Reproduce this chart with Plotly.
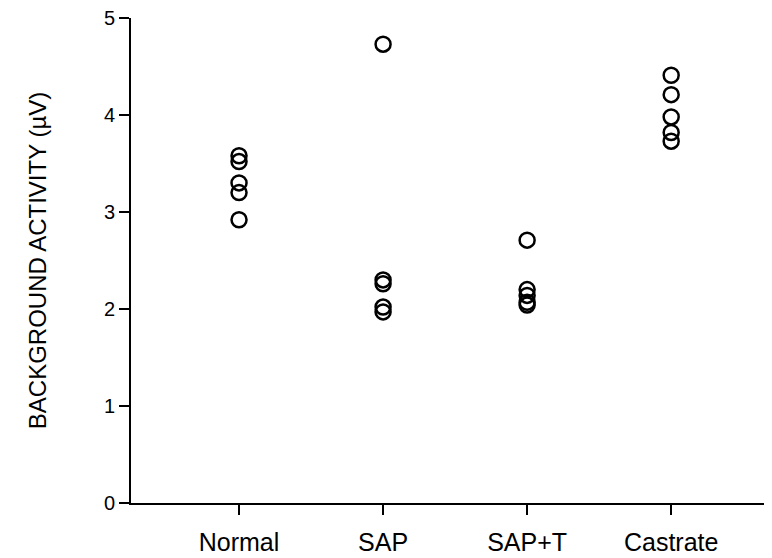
import plotly.graph_objects as go

categories = ["Normal", "SAP", "SAP+T", "Castrate"]
normal = [3.58, 3.52, 3.30, 3.20, 2.92]
sap = [4.73, 2.30, 2.26, 2.02, 1.97]
sap_t = [2.71, 2.20, 2.14, 2.07, 2.04]
castrate = [4.41, 4.21, 3.98, 3.82, 3.73]
y_ticks = [0, 1, 2, 3, 4, 5]

groups = [normal, sap, sap_t, castrate]
xs, ys = [], []
for i, vals in enumerate(groups):
    for v in vals:
        xs.append(i + 1)
        ys.append(v)

fig = go.Figure(go.Scatter(
    x=xs, y=ys, mode="markers",
    marker=dict(symbol="circle-open", size=15, color="black", line=dict(width=2.5, color="black")),
    showlegend=False,
))

fam = "Liberation Sans, Arial, sans-serif"
fig.update_layout(
    width=772, height=558,
    margin=dict(l=123, r=8, t=10, b=63),
    paper_bgcolor="white", plot_bgcolor="white",
    font=dict(family=fam, size=22, color="black"),
    xaxis=dict(
        range=[0.25, 4.7], tickvals=[1, 2, 3, 4], ticktext=categories,
        tickfont=dict(family=fam, size=25, color="black"),
        automargin=False,
        showline=True, linecolor="black", linewidth=2,
        ticks="outside", ticklen=10, tickwidth=2, tickcolor="black",
        showgrid=False, zeroline=False, ticklabelstandoff=6,
    ),
    yaxis=dict(
        range=[0, 5], tickvals=y_ticks,
        tickfont=dict(family=fam, size=20, color="black"),
        ticklabeloverflow="allow", automargin=False,
        showline=True, linecolor="black", linewidth=2,
        ticks="outside", ticklen=10, tickwidth=2, tickcolor="black",
        showgrid=False, zeroline=False,
        title=dict(text="BACKGROUND ACTIVITY (µV)", font=dict(family=fam, size=24, color="black"), standoff=50),
    ),
)
fig.write_html("out.html")
